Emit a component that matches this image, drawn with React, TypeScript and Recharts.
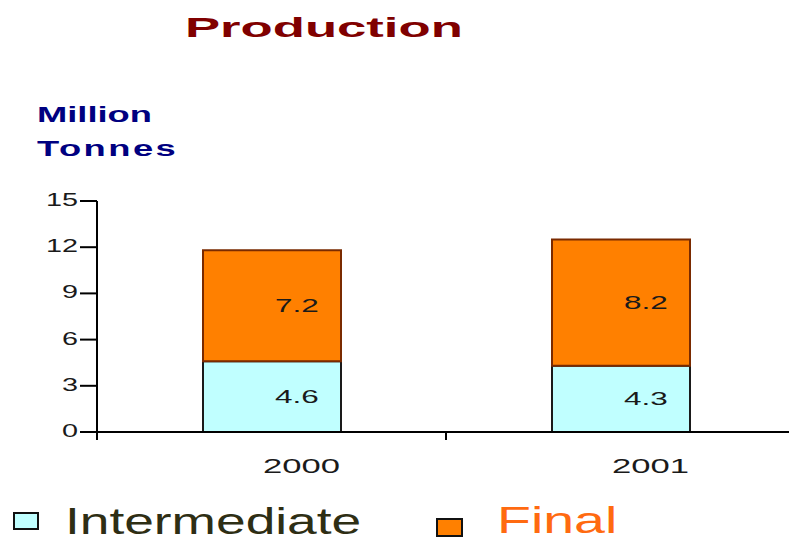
import { Bar, BarChart, LabelList, Legend, XAxis, YAxis } from "recharts";

const years = ["2000", "2001"];
const intermediate = [4.6, 4.3];
const final = [7.2, 8.2];
const yTicks = [0, 3, 6, 9, 12, 15];

const data = years.map((year, i) => ({
  year,
  intermediate: intermediate[i],
  final: final[i],
}));

const FONT = "'Liberation Sans', Arial, Helvetica, sans-serif";
const CHART_W = 795;
const Y_AXIS_W = 97;
const HALF_BAND = (CHART_W - Y_AXIS_W) / years.length / 2;

function YTick({ x, y, payload }: any) {
  return (
    <text
      transform={`translate(${x},${y + 5}) scale(1.6,1)`}
      textAnchor="end"
      fontSize={18}
      fontFamily={FONT}
      fill="#1a1a1a"
    >
      {payload.value}
    </text>
  );
}

// Excel-style: tick marks sit on the category boundaries, labels shifted right
function XTick({ x, y, payload }: any) {
  return (
    <g>
      <line
        x1={x - HALF_BAND}
        x2={x - HALF_BAND}
        y1={y}
        y2={y + 8}
        stroke="#000"
        strokeWidth={2}
      />
      <text
        transform={`translate(${x + 30},${y + 41}) scale(1.65,1)`}
        textAnchor="middle"
        fontSize={21}
        fontFamily={FONT}
        fill="#1a1a1a"
      >
        {payload.value}
      </text>
    </g>
  );
}

function SegmentLabel({ x, y, width, height, value }: any) {
  return (
    <text
      transform={`translate(${x + width / 2 + 25},${y + height / 2 + 6.5}) scale(1.75,1)`}
      textAnchor="middle"
      fontSize={18}
      fontFamily={FONT}
      fill="#1a1a1a"
    >
      {value}
    </text>
  );
}

const legendStyles: Record<string, any> = {
  intermediate: {
    box: { left: 13, top: 12, width: 22, height: 14, border: "2px solid #111" },
    text: { left: 65, top: 3, color: "#2e2e14", scale: 1.44, size: 37 },
  },
  final: {
    box: { left: 436, top: 18, width: 23, height: 15, border: "2px solid #111" },
    text: { left: 497, top: 2, color: "#ff6a10", scale: 1.5, size: 37 },
  },
};

function renderLegend(props: any) {
  const { payload } = props;
  return (
    <div style={{ position: "relative", width: 789, height: 41 }}>
      {payload.map((entry: any) => {
        const s = legendStyles[entry.dataKey];
        return (
          <div key={entry.dataKey}>
            <div
              style={{
                position: "absolute",
                ...s.box,
                background: entry.color,
              }}
            />
            <div
              style={{
                position: "absolute",
                left: s.text.left,
                top: s.text.top,
                fontSize: s.text.size,
                lineHeight: `${s.text.size}px`,
                height: s.text.size - 6,
                fontFamily: FONT,
                color: s.text.color,
                whiteSpace: "nowrap",
                transform: `scaleX(${s.text.scale})`,
                transformOrigin: "left top",
              }}
            >
              {entry.value}
            </div>
          </div>
        );
      })}
    </div>
  );
}

export default function App() {
  return (
    <div
      style={{
        position: "absolute",
        left: 0,
        top: 0,
        width: 789,
        height: 541,
        overflow: "hidden",
        background: "#fff",
        fontFamily: FONT,
      }}
    >
      <div
        style={{
          position: "absolute",
          left: 185,
          top: 14,
          fontSize: 28,
          lineHeight: "28px",
          fontWeight: "bold",
          color: "#800000",
          whiteSpace: "nowrap",
          transform: "scaleX(1.88)",
          transformOrigin: "left top",
        }}
      >
        Production
      </div>
      <div
        style={{
          position: "absolute",
          left: 37,
          top: 104,
          fontSize: 22,
          fontWeight: "bold",
          color: "#000080",
          whiteSpace: "nowrap",
          transform: "scaleX(1.65)",
          transformOrigin: "left top",
        }}
      >
        <div style={{ lineHeight: "22px", height: 34 }}>Million</div>
        <div style={{ lineHeight: "22px", letterSpacing: 1.5 }}>Tonnes</div>
      </div>

      <div style={{ position: "absolute", left: 0, top: 0 }}>
        <BarChart
          width={CHART_W}
          height={541}
          data={data}
          margin={{ top: 201, right: 0, left: 0, bottom: 0 }}
          barSize={138}
        >
          <YAxis
            width={Y_AXIS_W}
            domain={[0, 15]}
            ticks={yTicks}
            interval={0}
            tick={<YTick />}
            tickSize={17}
            tickMargin={2}
            axisLine={{ stroke: "#000", strokeWidth: 2 }}
            tickLine={{ stroke: "#000", strokeWidth: 2 }}
          />
          <XAxis
            dataKey="year"
            height={68}
            tick={<XTick />}
            tickLine={false}
            tickSize={0}
            tickMargin={0}
            axisLine={{ stroke: "#000", strokeWidth: 2 }}
          />
          <Legend
            verticalAlign="bottom"
            content={renderLegend}
            wrapperStyle={{ left: 0, width: 789, height: 41 }}
          />
          <Bar
            dataKey="intermediate"
            name="Intermediate"
            stackId="a"
            fill="#c0ffff"
            stroke="#1a1a1a"
            strokeWidth={2}
            isAnimationActive={false}
          >
            <LabelList dataKey="intermediate" content={<SegmentLabel />} />
          </Bar>
          <Bar
            dataKey="final"
            name="Final"
            stackId="a"
            fill="#ff8000"
            stroke="#7a2a00"
            strokeWidth={2}
            isAnimationActive={false}
          >
            <LabelList dataKey="final" content={<SegmentLabel />} />
          </Bar>
        </BarChart>
      </div>
    </div>
  );
}
